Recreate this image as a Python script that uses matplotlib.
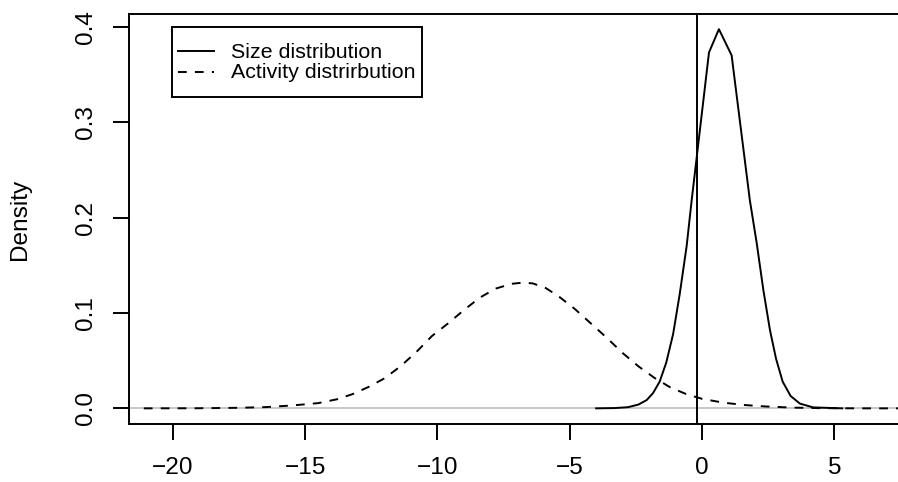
import matplotlib
matplotlib.use('Agg')
import matplotlib.pyplot as plt
from matplotlib.patches import Rectangle
from matplotlib.lines import Line2D

plt.rcParams['font.family'] = ['Liberation Sans', 'DejaVu Sans']

# density of the size distribution (solid)
size_x = [-4.0, -3.3, -2.8, -2.4, -2.09, -1.85, -1.6, -1.35, -1.09, -0.84,
          -0.58, -0.39, 0.265, 0.64, 1.12, 1.81, 2.07, 2.32, 2.57, 2.8,
          3.05, 3.35, 3.7, 4.2, 5.3]
size_y = [0.0, 0.0003, 0.0012, 0.0040, 0.0087, 0.016, 0.028, 0.048, 0.078, 0.120,
          0.170, 0.218, 0.373, 0.3974, 0.370, 0.218, 0.173, 0.124, 0.082, 0.052,
          0.028, 0.013, 0.005, 0.001, 0.0]

# density of the activity distribution (dashed)
act_x = [-21.1, -19.0, -17.5, -16.5, -15.5, -14.5, -13.8, -13.2, -12.6, -12.0,
         -11.4, -10.8, -10.2, -9.6, -9.0, -8.4, -7.8, -7.2, -6.8, -6.4,
         -5.9, -5.4, -4.8, -4.2, -3.6, -3.0, -2.4, -1.8, -1.2, -0.6,
         0.0, 0.8, 1.6, 2.4, 3.4, 4.5, 6.0, 8.0]
act_y = [0.0, 0.0001, 0.0006, 0.0013, 0.0030, 0.0055, 0.0095, 0.0150, 0.0225, 0.0315,
         0.0440, 0.0590, 0.0760, 0.0890, 0.1030, 0.1160, 0.1255, 0.1305, 0.1317, 0.1310,
         0.1260, 0.1170, 0.1040, 0.0890, 0.0740, 0.0580, 0.0440, 0.0320, 0.0220, 0.0150,
         0.0100, 0.0060, 0.0035, 0.0020, 0.0008, 0.0002, 0.0, 0.0]

vline_x = -0.2
x_ticks = [-20, -15, -10, -5, 0, 5]
y_ticks = [0.0, 0.1, 0.2, 0.3, 0.4]
legend_labels = ['Size distribution', 'Activity distrirbution']

W, H = 898, 482
FS = 17.6      # axis text
FS_LEG = 15.4  # legend text
LW = 1.4
DASH = (4.5, 4.2)

fig = plt.figure(figsize=(W / 100, H / 100), dpi=100)
ax = fig.add_axes([129 / W, 58 / H, 769 / W, 410 / H])

ax.axhline(0, color='#BEBEBE', lw=1.2, zorder=1)
ax.plot(size_x, size_y, color='black', lw=LW, zorder=3)
ax.plot(act_x, act_y, color='black', lw=LW, linestyle=(0, DASH), zorder=3)
ax.axvline(vline_x, color='black', lw=LW, zorder=4)

ax.set_xlim(-21.66, 7.41)
ax.set_ylim(-0.0164, 0.4133)
ax.set_xticks(x_ticks)
ax.set_yticks(y_ticks)
ax.set_yticklabels(['%.1f' % v for v in y_ticks], rotation=90, va='center')
ax.tick_params(axis='both', direction='out', length=11.5, width=LW,
               labelsize=FS, colors='black')
ax.tick_params(axis='x', pad=12.5)
ax.tick_params(axis='y', pad=11.8)
for side in ['left', 'top', 'bottom']:
    ax.spines[side].set_linewidth(LW)
ax.spines['right'].set_visible(False)

fig.text(20.3 / W, 1 - 219 / H, 'Density', rotation=90, ha='center', va='center',
         fontsize=FS)

# legend box drawn by hand, in pixel positions of the figure
fig.add_artist(Rectangle((172 / W, 1 - 97 / H), 250 / W, 70 / H,
                         transform=fig.transFigure, fill=False,
                         edgecolor='black', lw=LW))
fig.add_artist(Line2D([178 / W, 214 / W], [1 - 51 / H] * 2,
                      transform=fig.transFigure, color='black', lw=LW))
fig.add_artist(Line2D([178 / W, 214 / W], [1 - 71.7 / H] * 2,
                      transform=fig.transFigure, color='black', lw=LW,
                      linestyle=(0, DASH)))
fig.text(231.5 / W, 1 - 58.3 / H, legend_labels[0], ha='left', va='baseline',
         fontsize=FS_LEG)
fig.text(231.5 / W, 1 - 78.3 / H, legend_labels[1], ha='left', va='baseline',
         fontsize=FS_LEG)

fig.savefig('out.png', dpi=100)
